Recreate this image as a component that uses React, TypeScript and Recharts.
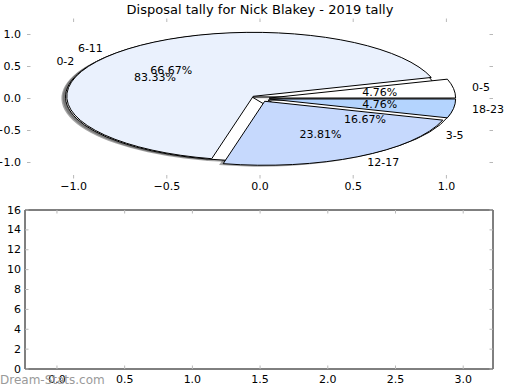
import { PieChart, Pie, ScatterChart, Scatter, XAxis, YAxis, ReferenceArea } from 'recharts'

// outer ring: disposals by quarter-of-game band
const hourBands = ['0-5', '6-11', '12-17', '18-23']
const hourCounts = [1, 14, 5, 1]
const hourColors = ['#ffffff', '#eaf1fd', '#c6d9fd', '#b4d4fe']

// second pie drawn underneath
const rangeBands = ['0-2', '3-5']
const rangeCounts = [5, 1]
const rangeColors = ['#ffffff', '#ffffff']

const pieTicks = [-1, -0.5, 0, 0.5, 1]
const pieDomain = [-1.25, 1.25]
const countTicks = [0, 2, 4, 6, 8, 10, 12, 14, 16]
const countDomain = [0, 16]
const slotTicks = [0, 0.5, 1, 1.5, 2, 2.5, 3]
const slotDomain = [-0.236, 3.22]
const noPoints: { x: number; y: number }[] = []

const FONT = '"DejaVu Sans", sans-serif'
const TICK = '#b8b8b8'
const TOP = { left: 27, right: 493, top: 18.5, bottom: 178.5 }
const BOT = { left: 25, right: 493, top: 15, bottom: 174 }
const ASPECT = (TOP.right - TOP.left) / (TOP.bottom - TOP.top)
const EXPLODE = 0.05
const SHADOW = 0.022

const hourData = hourBands.map((name, i) => ({ name, value: hourCounts[i], color: hourColors[i] }))
const rangeData = rangeBands.map((name, i) => ({ name, value: rangeCounts[i], color: rangeColors[i] }))

const rad = (d: number) => (d * Math.PI) / 180
const fmt1 = (v: number) => v.toFixed(1).replace('-', '\u2212')

function wedge(shadow: boolean) {
  return (p: any) => {
    const ry = p.outerRadius
    const rx = ry * ASPECT
    const mid = rad((p.startAngle + p.endAngle) / 2)
    let ox = p.cx + EXPLODE * rx * Math.cos(mid)
    let oy = p.cy - EXPLODE * ry * Math.sin(mid)
    if (shadow) {
      ox -= SHADOW * rx
      oy += SHADOW * ry
    }
    const s = rad(p.startAngle)
    const e = rad(p.endAngle)
    const large = Math.abs(p.endAngle - p.startAngle) > 180 ? 1 : 0
    const d = `M${ox},${oy} L${ox + rx * Math.cos(s)},${oy - ry * Math.sin(s)} A${rx},${ry} 0 ${large} 0 ${ox + rx * Math.cos(e)},${oy - ry * Math.sin(e)} Z`
    if (shadow) return <path d={d} fill="#4d4d4d" fillOpacity={0.5} stroke="none" />
    return <path d={d} fill={p.payload?.color ?? '#fff'} stroke="#000" strokeWidth={1} />
  }
}

function pieLabel(p: any) {
  const ry = p.outerRadius
  const rx = ry * ASPECT
  const m = rad(p.midAngle)
  const c = Math.cos(m)
  const s = Math.sin(m)
  const name = p.payload?.name ?? p.name
  return (
    <g>
      <text x={p.cx + (EXPLODE + 1.1) * rx * c} y={p.cy - (EXPLODE + 1.1) * ry * s}
        textAnchor={c > 0 ? 'start' : 'end'} dominantBaseline="central" fontSize={11} fontFamily={FONT} fill="#000">
        {name}
      </text>
      <text x={p.cx + (EXPLODE + 0.6) * rx * c} y={p.cy - (EXPLODE + 0.6) * ry * s}
        textAnchor="middle" dominantBaseline="central" fontSize={11} fontFamily={FONT} fill="#000">
        {(p.percent * 100).toFixed(2)}%
      </text>
    </g>
  )
}

const PieXTick = (p: any) => (
  <g>
    <line x1={p.x} x2={p.x} y1={TOP.bottom} y2={TOP.bottom - 3.5} stroke={TICK} />
    <line x1={p.x} x2={p.x} y1={TOP.top} y2={TOP.top + 3.5} stroke={TICK} />
    <text x={p.x} y={TOP.bottom + 8} textAnchor="middle" dominantBaseline="central" fontSize={11} fontFamily={FONT} fill="#000">
      {fmt1(p.payload.value)}
    </text>
  </g>
)

const PieYTick = (p: any) => (
  <g>
    <line x1={TOP.left} x2={TOP.left + 3.5} y1={p.y} y2={p.y} stroke={TICK} />
    <line x1={TOP.right} x2={TOP.right - 3.5} y1={p.y} y2={p.y} stroke={TICK} />
    <text x={TOP.left - 6} y={p.y} textAnchor="end" dominantBaseline="central" fontSize={11} fontFamily={FONT} fill="#000">
      {fmt1(p.payload.value)}
    </text>
  </g>
)

const SlotTick = (p: any) => (
  <g>
    <line x1={p.x} x2={p.x} y1={BOT.bottom} y2={BOT.bottom - 3.5} stroke={TICK} />
    <line x1={p.x} x2={p.x} y1={BOT.top} y2={BOT.top + 3.5} stroke={TICK} />
    <text x={p.x} y={BOT.bottom + 10} textAnchor="middle" dominantBaseline="central" fontSize={11} fontFamily={FONT} fill="#000">
      {p.payload.value.toFixed(1)}
    </text>
  </g>
)

const CountTick = (p: any) => (
  <g>
    <line x1={BOT.left} x2={BOT.left + 3.5} y1={p.y} y2={p.y} stroke={TICK} />
    <line x1={BOT.right} x2={BOT.right - 3.5} y1={p.y} y2={p.y} stroke={TICK} />
    <text x={BOT.left - 4} y={p.y} textAnchor="end" dominantBaseline="central" fontSize={11} fontFamily={FONT} fill="#000">
      {p.payload.value}
    </text>
  </g>
)

export default function App() {
  const cx = (TOP.left + TOP.right) / 2
  const cy = (TOP.top + TOP.bottom) / 2
  const r = (TOP.bottom - TOP.top) / (pieDomain[1] - pieDomain[0])
  const pieCommon = {
    dataKey: 'value',
    nameKey: 'name',
    cx,
    cy,
    innerRadius: 0,
    outerRadius: r,
    startAngle: 0,
    endAngle: 360,
    isAnimationActive: false,
  }

  return (
    <div style={{ position: 'absolute', left: 0, top: 0, width: 520, height: 390, background: '#fff', fontFamily: FONT }}>
      <div style={{ position: 'absolute', left: 0, top: 0 }}>
        <ScatterChart width={520} height={200} margin={{ top: TOP.top, right: 520 - TOP.right, bottom: 0, left: 0 }}>
          <XAxis type="number" dataKey="x" domain={pieDomain} ticks={pieTicks} allowDataOverflow interval={0}
            height={200 - TOP.bottom} tickSize={0} tickMargin={0} axisLine={false} tickLine={false}
            tick={(p: any) => <PieXTick {...p} />} />
          <YAxis type="number" dataKey="y" domain={pieDomain} ticks={pieTicks} allowDataOverflow interval={0}
            width={TOP.left} tickSize={0} tickMargin={0} axisLine={false} tickLine={false}
            tick={(p: any) => <PieYTick {...p} />} />
          <Scatter data={noPoints} isAnimationActive={false} />
        </ScatterChart>
      </div>
      <div style={{ position: 'absolute', left: 0, top: 0 }}>
        <PieChart width={520} height={200} margin={{ top: 0, right: 0, bottom: 0, left: 0 }}>
          <Pie {...pieCommon} data={rangeData} stroke="none" shape={wedge(true)} />
          <Pie {...pieCommon} data={hourData} stroke="none" shape={wedge(true)} />
          <Pie {...pieCommon} data={rangeData} stroke="#000" shape={wedge(false)} />
          <Pie {...pieCommon} data={hourData} stroke="#000" shape={wedge(false)} />
          <Pie {...pieCommon} data={rangeData} fill="none" stroke="none" label={pieLabel} labelLine={false} />
          <Pie {...pieCommon} data={hourData} fill="none" stroke="none" label={pieLabel} labelLine={false} />
        </PieChart>
      </div>
      <div style={{ position: 'absolute', left: 0, top: 195 }}>
        <ScatterChart width={520} height={195} margin={{ top: BOT.top, right: 520 - BOT.right, bottom: 0, left: 0 }}>
          <XAxis type="number" dataKey="x" domain={slotDomain} ticks={slotTicks} allowDataOverflow interval={0}
            height={195 - BOT.bottom} tickSize={0} tickMargin={0} axisLine={false} tickLine={false}
            tick={(p: any) => <SlotTick {...p} />} />
          <YAxis type="number" dataKey="y" domain={countDomain} ticks={countTicks} allowDataOverflow interval={0}
            width={BOT.left} tickSize={0} tickMargin={0} axisLine={false} tickLine={false}
            tick={(p: any) => <CountTick {...p} />} />
          <ReferenceArea x1={slotDomain[0]} x2={slotDomain[1]} y1={countDomain[0]} y2={countDomain[1]}
            fill="none" stroke="#000" strokeWidth={1} ifOverflow="visible" />
          <Scatter data={noPoints} isAnimationActive={false} />
        </ScatterChart>
      </div>
      <svg width={520} height={390} style={{ position: 'absolute', left: 0, top: 0, pointerEvents: 'none' }}>
        <text x={260} y={14} textAnchor="middle" fontSize={13} fontFamily={FONT} fill="#000">
          Disposal tally for Nick Blakey - 2019 tally
        </text>
        <text x={0} y={384} fontSize={12} fontFamily={FONT} fill="#9a9a9a">
          Dream-Stats.com
        </text>
      </svg>
    </div>
  )
}
